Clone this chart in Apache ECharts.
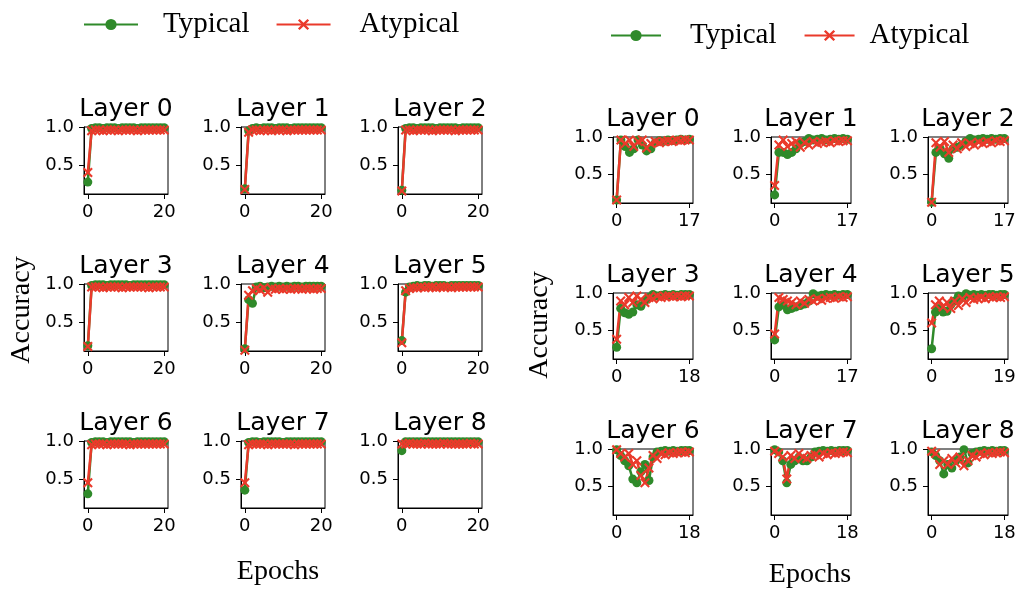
<!DOCTYPE html>
<html>
<head>
<meta charset="utf-8">
<script src="https://cdn.jsdelivr.net/npm/echarts@6/dist/echarts.min.js"></script>
<style>
  html, body { margin: 0; padding: 0; background: #fff; }
  #chart { width: 1020px; height: 593px; }
</style>
</head>
<body>
<div id="chart"></div>
<script>
// layer names, shared by both panels
const layerNames = ['Layer 0', 'Layer 1', 'Layer 2', 'Layer 3', 'Layer 4', 'Layer 5', 'Layer 6', 'Layer 7', 'Layer 8']
const yTicks = [0.5, 1.0]

// left panel: last epoch per layer and accuracy per epoch
const leftEpochs = [20, 20, 20, 20, 20, 20, 20, 20, 20]
const leftTypical = [
  [0.27, 0.99, 1.00, 1.00, 0.99, 1.00, 1.00, 1.00, 0.99, 1.00, 1.00, 1.00, 1.00, 0.99, 1.00, 1.00, 1.00, 1.00, 1.00, 1.00, 1.00],
  [0.18, 0.96, 0.99, 1.00, 0.99, 1.00, 1.00, 1.00, 0.99, 1.00, 1.00, 1.00, 0.99, 1.00, 1.00, 1.00, 1.00, 1.00, 1.00, 1.00, 1.00],
  [0.16, 0.99, 1.00, 1.00, 0.99, 1.00, 1.00, 1.00, 1.00, 0.99, 1.00, 1.00, 1.00, 1.00, 1.00, 0.99, 1.00, 1.00, 1.00, 1.00, 1.00],
  [0.18, 0.99, 1.00, 1.00, 1.00, 0.99, 1.00, 1.00, 1.00, 1.00, 1.00, 0.99, 1.00, 1.00, 1.00, 1.00, 1.00, 1.00, 1.00, 1.00, 1.00],
  [0.14, 0.80, 0.75, 0.97, 0.98, 0.96, 0.97, 0.98, 0.97, 0.98, 0.97, 0.98, 0.97, 0.98, 0.98, 0.97, 0.98, 0.98, 0.98, 0.98, 0.98],
  [0.25, 0.90, 0.97, 0.98, 0.99, 0.98, 0.99, 0.99, 0.98, 0.99, 0.99, 0.99, 0.98, 0.99, 0.99, 0.99, 0.99, 0.99, 0.99, 0.99, 0.99],
  [0.30, 0.99, 1.00, 1.00, 1.00, 0.99, 1.00, 1.00, 1.00, 1.00, 1.00, 1.00, 0.99, 1.00, 1.00, 1.00, 1.00, 1.00, 1.00, 1.00, 1.00],
  [0.35, 0.99, 1.00, 1.00, 0.99, 1.00, 1.00, 1.00, 1.00, 1.00, 0.99, 1.00, 1.00, 1.00, 1.00, 1.00, 1.00, 1.00, 1.00, 1.00, 1.00],
  [0.88, 1.00, 1.00, 1.00, 1.00, 1.00, 1.00, 1.00, 1.00, 1.00, 1.00, 1.00, 1.00, 1.00, 1.00, 1.00, 1.00, 1.00, 1.00, 1.00, 1.00]
]
const leftAtypical = [
  [0.40, 0.96, 0.97, 0.97, 0.96, 0.97, 0.97, 0.97, 0.96, 0.97, 0.97, 0.97, 0.97, 0.96, 0.97, 0.97, 0.97, 0.97, 0.97, 0.97, 0.97],
  [0.17, 0.94, 0.97, 0.97, 0.96, 0.97, 0.97, 0.96, 0.97, 0.97, 0.97, 0.96, 0.97, 0.97, 0.97, 0.97, 0.97, 0.97, 0.97, 0.97, 0.97],
  [0.15, 0.97, 0.97, 0.96, 0.97, 0.97, 0.97, 0.97, 0.96, 0.97, 0.97, 0.97, 0.97, 0.97, 0.96, 0.97, 0.97, 0.97, 0.97, 0.97, 0.97],
  [0.17, 0.97, 0.97, 0.97, 0.96, 0.97, 0.97, 0.97, 0.97, 0.96, 0.97, 0.97, 0.97, 0.97, 0.97, 0.97, 0.96, 0.97, 0.97, 0.97, 0.97],
  [0.12, 0.86, 0.92, 0.95, 0.93, 0.96, 0.90, 0.95, 0.94, 0.95, 0.94, 0.95, 0.94, 0.95, 0.95, 0.94, 0.95, 0.95, 0.94, 0.95, 0.95],
  [0.22, 0.92, 0.95, 0.96, 0.96, 0.97, 0.96, 0.97, 0.97, 0.96, 0.97, 0.97, 0.97, 0.96, 0.97, 0.97, 0.97, 0.97, 0.97, 0.97, 0.97],
  [0.45, 0.96, 0.97, 0.97, 0.97, 0.96, 0.97, 0.97, 0.97, 0.97, 0.97, 0.96, 0.97, 0.97, 0.97, 0.97, 0.97, 0.97, 0.97, 0.97, 0.97],
  [0.45, 0.96, 0.97, 0.97, 0.97, 0.97, 0.96, 0.97, 0.97, 0.97, 0.97, 0.97, 0.97, 0.96, 0.97, 0.97, 0.97, 0.97, 0.97, 0.97, 0.97],
  [0.97, 0.97, 0.98, 0.97, 0.97, 0.97, 0.98, 0.97, 0.97, 0.97, 0.97, 0.98, 0.97, 0.97, 0.97, 0.97, 0.97, 0.97, 0.98, 0.97, 0.97]
]

// right panel
const rightEpochs = [17, 17, 17, 18, 17, 19, 18, 18, 18]
const rightTypical = [
  [0.15, 0.97, 0.88, 0.80, 0.85, 0.97, 0.90, 0.82, 0.85, 0.93, 0.96, 0.95, 0.97, 0.96, 0.97, 0.98, 0.97, 0.98],
  [0.22, 0.80, 0.80, 0.77, 0.80, 0.85, 0.92, 0.95, 0.99, 0.97, 0.98, 0.99, 0.97, 0.98, 0.99, 0.98, 0.99, 0.98],
  [0.12, 0.80, 0.85, 0.78, 0.72, 0.85, 0.87, 0.90, 0.95, 0.99, 0.97, 0.98, 0.99, 0.98, 0.99, 0.98, 0.99, 0.99],
  [0.27, 0.80, 0.74, 0.72, 0.75, 0.85, 0.83, 0.90, 0.95, 0.99, 0.97, 0.98, 0.99, 0.98, 0.99, 0.98, 0.99, 0.99, 0.99],
  [0.37, 0.82, 0.85, 0.78, 0.80, 0.82, 0.84, 0.86, 0.90, 1.00, 0.97, 0.98, 0.99, 0.98, 0.99, 0.98, 0.99, 0.99],
  [0.25, 0.75, 0.80, 0.75, 0.76, 0.85, 0.90, 0.97, 0.95, 1.00, 0.98, 0.99, 0.98, 0.99, 0.98, 0.99, 0.99, 0.98, 0.99, 0.99],
  [1.00, 0.92, 0.85, 0.78, 0.60, 0.55, 0.70, 0.80, 0.58, 0.90, 0.97, 0.98, 0.99, 0.98, 0.99, 0.98, 0.99, 0.99, 0.99],
  [1.00, 0.97, 0.85, 0.55, 0.80, 0.85, 0.90, 0.85, 0.85, 0.90, 0.97, 0.98, 0.99, 0.98, 0.99, 0.98, 0.99, 0.99, 0.99],
  [0.97, 0.92, 0.85, 0.67, 0.80, 0.75, 0.85, 0.90, 1.00, 0.82, 0.95, 0.97, 0.98, 0.99, 0.98, 0.99, 0.98, 0.99, 0.99]
]
const rightAtypical = [
  [0.15, 0.97, 0.92, 0.97, 0.88, 0.95, 0.97, 0.86, 0.92, 0.95, 0.93, 0.95, 0.96, 0.95, 0.97, 0.96, 0.97, 0.97],
  [0.35, 0.90, 0.97, 0.88, 0.92, 0.95, 0.87, 0.93, 0.90, 0.95, 0.92, 0.94, 0.95, 0.93, 0.96, 0.95, 0.96, 0.96],
  [0.12, 0.93, 0.87, 0.95, 0.80, 0.90, 0.85, 0.93, 0.88, 0.92, 0.90, 0.94, 0.92, 0.95, 0.93, 0.96, 0.95, 0.96],
  [0.38, 0.90, 0.85, 0.95, 0.88, 0.97, 0.92, 0.88, 0.95, 0.93, 0.97, 0.95, 0.96, 0.97, 0.96, 0.97, 0.96, 0.97, 0.97],
  [0.45, 0.95, 0.92, 0.90, 0.88, 0.85, 0.90, 0.87, 0.92, 0.90, 0.93, 0.91, 0.94, 0.95, 0.94, 0.96, 0.95, 0.96],
  [0.60, 0.85, 0.90, 0.82, 0.88, 0.80, 0.90, 0.84, 0.93, 0.88, 0.95, 0.92, 0.94, 0.95, 0.93, 0.96, 0.95, 0.96, 0.95, 0.96],
  [1.00, 0.95, 0.90, 0.95, 0.80, 0.85, 0.65, 0.55, 0.75, 0.92, 0.88, 0.95, 0.93, 0.96, 0.95, 0.96, 0.97, 0.96, 0.97],
  [0.98, 0.95, 0.90, 0.60, 0.92, 0.88, 0.95, 0.90, 0.88, 0.92, 0.93, 0.90, 0.95, 0.93, 0.96, 0.95, 0.96, 0.97, 0.96],
  [0.98, 0.95, 0.80, 0.85, 0.80, 0.88, 0.82, 0.90, 0.78, 0.85, 0.92, 0.90, 0.95, 0.93, 0.96, 0.95, 0.96, 0.97, 0.96]
]

const GREEN = '#2f8a2a'
const RED = '#ea3a2b'
const CROSS = 'path://M0,1.5 L1.5,0 L5,3.5 L8.5,0 L10,1.5 L6.5,5 L10,8.5 L8.5,10 L5,6.5 L1.5,10 L0,8.5 L3.5,5 Z'
const SANS = 'DejaVu Sans'
const SERIF = 'Liberation Serif'

const panels = [
  { epochs: leftEpochs, typical: leftTypical, atypical: leftAtypical,
    lefts: [84, 241, 398], tops: [127, 284, 441], width: 84, height: 67 },
  { epochs: rightEpochs, typical: rightTypical, atypical: rightAtypical,
    lefts: [613, 771, 928], tops: [137, 293, 449], width: 80, height: 66 }
]

const grids = []
const xAxes = []
const yAxes = []
const series = []
const graphics = []

panels.forEach(p => {
  layerNames.forEach((name, k) => {
    const idx = grids.length
    const left = p.lefts[k % 3]
    const top = p.tops[Math.floor(k / 3)]
    const last = p.epochs[k]
    grids.push({
      left: left, top: top, width: p.width, height: p.height,
      show: true, borderColor: '#000', borderWidth: 1
    })
    xAxes.push({
      type: 'value', gridIndex: idx,
      min: -0.05 * last, max: 1.05 * last,
      splitLine: { show: false },
      axisLine: { onZero: false, lineStyle: { color: '#000' } },
      axisTick: { customValues: [0, last], length: 5, lineStyle: { color: '#000' } },
      axisLabel: {
        customValues: [0, last], color: '#000', fontFamily: SANS, fontSize: 18, margin: 9,
        formatter: v => String(Math.round(v))
      }
    })
    yAxes.push({
      type: 'value', gridIndex: idx,
      min: 0.11, max: 1.01,
      splitLine: { show: false },
      axisLine: { onZero: false, lineStyle: { color: '#000' } },
      axisTick: { customValues: yTicks, length: 5, lineStyle: { color: '#000' } },
      axisLabel: {
        customValues: yTicks, color: '#000', fontFamily: SANS, fontSize: 18, margin: 10,
        formatter: v => v.toFixed(1)
      }
    })
    series.push({
      name: 'Typical', type: 'line', xAxisIndex: idx, yAxisIndex: idx,
      data: p.typical[k].map((v, i) => [i, v]),
      symbol: 'circle', symbolSize: 9,
      itemStyle: { color: GREEN },
      lineStyle: { color: GREEN, width: 2.5 },
      animation: false
    })
    series.push({
      name: 'Atypical', type: 'line', xAxisIndex: idx, yAxisIndex: idx,
      data: p.atypical[k].map((v, i) => [i, v]),
      symbol: CROSS, symbolSize: 10,
      itemStyle: { color: RED },
      lineStyle: { color: RED, width: 2.5 },
      animation: false
    })
    graphics.push({
      type: 'text', x: left + p.width / 2, y: top - 18,
      style: { text: name, font: '25px "' + SANS + '"', fill: '#000', align: 'center', verticalAlign: 'middle' }
    })
  })
})

// axis titles
graphics.push(
  { type: 'text', x: 22, y: 310, rotation: Math.PI / 2,
    style: { text: 'Accuracy', font: '28px "' + SERIF + '"', fill: '#000', align: 'center', verticalAlign: 'middle' } },
  { type: 'text', x: 540, y: 325, rotation: Math.PI / 2,
    style: { text: 'Accuracy', font: '28px "' + SERIF + '"', fill: '#000', align: 'center', verticalAlign: 'middle' } },
  { type: 'text', x: 278, y: 572,
    style: { text: 'Epochs', font: '28px "' + SERIF + '"', fill: '#000', align: 'center', verticalAlign: 'middle' } },
  { type: 'text', x: 810, y: 575,
    style: { text: 'Epochs', font: '28px "' + SERIF + '"', fill: '#000', align: 'center', verticalAlign: 'middle' } }
)

const legendText = { color: '#000', fontFamily: SERIF, fontSize: 29 }

const chart = echarts.init(document.getElementById('chart'), null, { renderer: 'canvas' })
chart.setOption({
  animation: false,
  backgroundColor: '#fff',
  legend: [
    {
      data: [
        { name: 'Typical', textStyle: { padding: [0, 0, 0, 20] } },
        { name: 'Atypical', textStyle: { padding: [0, 0, 0, 24] } }
      ],
      left: 78, top: 5, itemWidth: 54, itemHeight: 14, itemGap: 26, textStyle: legendText
    },
    {
      data: [
        { name: 'Typical', textStyle: { padding: [0, 0, 0, 24] } },
        { name: 'Atypical', textStyle: { padding: [0, 0, 0, 10] } }
      ],
      left: 605, top: 16, itemWidth: 50, itemHeight: 14, itemGap: 27, textStyle: legendText
    }
  ],
  grid: grids,
  xAxis: xAxes,
  yAxis: yAxes,
  series: series,
  graphic: graphics
})
</script>
</body>
</html>
